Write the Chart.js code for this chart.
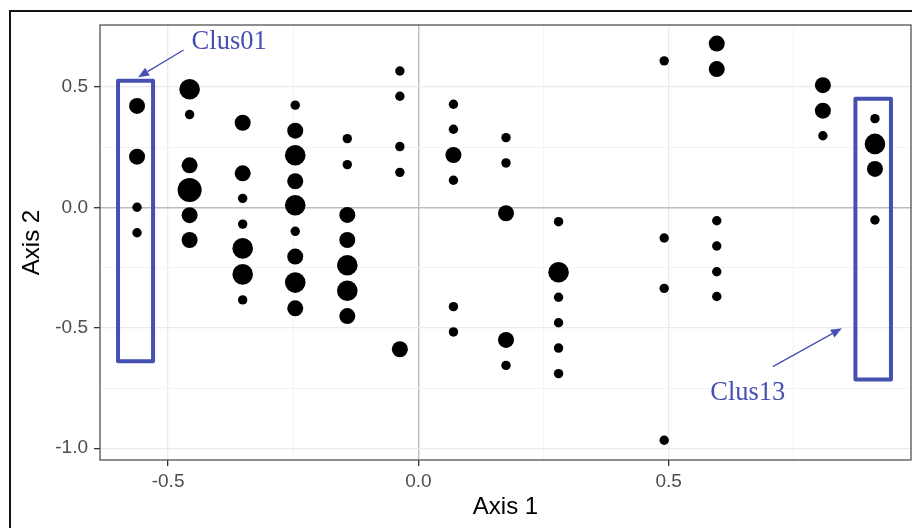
<!DOCTYPE html>
<html>
<head>
<meta charset="utf-8">
<script src="https://cdn.jsdelivr.net/npm/chart.js@4/dist/chart.umd.min.js"></script>
<style>
  html, body { margin: 0; padding: 0; background: #fff; }
  #wrap { position: relative; width: 912px; height: 528px; }
</style>
</head>
<body>
<div id="wrap"><canvas id="chart" width="912" height="528"></canvas></div>
<script>
// one entry per site: position on the two axes and its size class (1 = smallest)
const axis1 = [
  -0.562, -0.562, -0.562, -0.562,
  -0.457, -0.457, -0.457, -0.457, -0.457, -0.457,
  -0.351, -0.351, -0.351, -0.351, -0.351, -0.351, -0.351,
  -0.246, -0.246, -0.246, -0.246, -0.246, -0.246, -0.246, -0.246, -0.246,
  -0.142, -0.142, -0.142, -0.142, -0.142, -0.142, -0.142,
  -0.037, -0.037, -0.037, -0.037, -0.037,
  0.070, 0.070, 0.070, 0.070, 0.070, 0.070,
  0.175, 0.175, 0.175, 0.175, 0.175,
  0.280, 0.280, 0.280, 0.280, 0.280, 0.280,
  0.491, 0.491, 0.491, 0.491,
  0.596, 0.596, 0.596, 0.596, 0.596, 0.596,
  0.808, 0.808, 0.808,
  0.912, 0.912, 0.912, 0.912
];
const axis2 = [
  0.422, 0.211, 0.001, -0.105,
  0.491, 0.386, 0.175, 0.073, -0.032, -0.135,
  0.352, 0.142, 0.038, -0.069, -0.170, -0.278, -0.384,
  0.425, 0.319, 0.217, 0.109, 0.009, -0.099, -0.204, -0.312, -0.419,
  0.286, 0.178, -0.031, -0.135, -0.240, -0.346, -0.451,
  0.567, 0.462, 0.253, 0.146, -0.589,
  0.429, 0.325, 0.218, 0.113, -0.412, -0.517,
  0.290, 0.185, -0.024, -0.550, -0.656,
  -0.059, -0.269, -0.373, -0.479, -0.584, -0.690,
  0.609, -0.127, -0.336, -0.967,
  0.681, 0.575, -0.055, -0.160, -0.267, -0.370,
  0.508, 0.402, 0.298,
  0.369, 0.264, 0.160, -0.052
];
const weight = [
  2, 2, 1, 1,
  3, 1, 2, 4, 2, 2,
  2, 2, 1, 1, 3, 3, 1,
  1, 2, 3, 2, 3, 1, 2, 3, 2,
  1, 1, 2, 2, 3, 3, 2,
  1, 1, 1, 1, 2,
  1, 1, 2, 1, 1, 1,
  1, 1, 2, 2, 1,
  1, 3, 1, 1, 1, 1,
  1, 1, 1, 1,
  2, 2, 1, 1, 1, 1,
  2, 2, 1,
  1, 3, 2, 1
];

const xBreaks = [-0.5, 0, 0.5];
const xMinor = [-0.25, 0.25, 0.75];
const yBreaks = [-1, -0.5, 0, 0.5];
const yMinor = [-0.75, -0.25, 0.25];
const xLimits = [-0.636, 0.984];
const yLimits = [-1.049, 0.758];

// callouts, in axis units
const clusterLabels = ['Clus01', 'Clus13'];
const clusterBoxes = [[-0.600, 0.526, -0.530, -0.639], [0.873, 0.452, 0.944, -0.715]];
const arrowFrom = [[-0.469, 0.654], [0.708, -0.661]];
const arrowTo = [[-0.560, 0.541], [0.846, -0.502]];
const labelAt = [[-0.453, 0.66], [0.583, -0.80]];

const BLUE = '#4650b0';
const radiusFor = { 1: 4.7, 2: 8, 3: 10.3, 4: 12 };

const isMajor = (v, breaks) => breaks.some((b) => Math.abs(b - v) < 1e-9);
const gridColor = (breaks) => (ctx) => {
  const v = ctx.tick.value;
  if (Math.abs(v) < 1e-9) return '#bdbdbd';
  return isMajor(v, breaks) ? '#ebebeb' : '#f1f1f1';
};
const gridWidth = (breaks) => (ctx) => {
  const v = ctx.tick.value;
  if (Math.abs(v) < 1e-9) return 1.4;
  return isMajor(v, breaks) ? 1.3 : 0.8;
};
const tickColor = (breaks) => (ctx) => (isMajor(ctx.tick.value, breaks) ? '#333333' : 'rgba(0,0,0,0)');

const decor = {
  id: 'decor',
  beforeDraw(chart) {
    const ctx = chart.ctx;
    ctx.save();
    ctx.fillStyle = '#fff';
    ctx.fillRect(0, 0, chart.width, chart.height);
    ctx.fillStyle = '#151515';
    ctx.fillRect(9, 10, chart.width, 2);
    ctx.fillRect(9, 10, 2, chart.height);
    ctx.restore();
  },
  afterDraw(chart) {
    const { ctx, chartArea: a } = chart;
    const x = chart.scales.x, y = chart.scales.y;
    ctx.save();
    ctx.strokeStyle = '#444';
    ctx.lineWidth = 1.2;
    ctx.strokeRect(a.left, a.top, a.right - a.left, a.bottom - a.top);

    ctx.strokeStyle = BLUE;
    ctx.fillStyle = BLUE;
    clusterBoxes.forEach((b, i) => {
      const x0 = x.getPixelForValue(b[0]), y0 = y.getPixelForValue(b[1]);
      const x1 = x.getPixelForValue(b[2]), y1 = y.getPixelForValue(b[3]);
      ctx.lineWidth = 4;
      ctx.lineJoin = 'round';
      ctx.strokeRect(x0, y0, x1 - x0, y1 - y0);

      // arrow
      const fx = x.getPixelForValue(arrowFrom[i][0]), fy = y.getPixelForValue(arrowFrom[i][1]);
      const tx = x.getPixelForValue(arrowTo[i][0]), ty = y.getPixelForValue(arrowTo[i][1]);
      const ang = Math.atan2(ty - fy, tx - fx);
      const len = 11, half = 4.5;
      const bx = tx - len * Math.cos(ang), by = ty - len * Math.sin(ang);
      ctx.lineWidth = 1.3;
      ctx.beginPath();
      ctx.moveTo(fx, fy);
      ctx.lineTo(bx, by);
      ctx.stroke();
      ctx.beginPath();
      ctx.moveTo(tx, ty);
      ctx.lineTo(bx + half * Math.sin(ang), by - half * Math.cos(ang));
      ctx.lineTo(bx - half * Math.sin(ang), by + half * Math.cos(ang));
      ctx.closePath();
      ctx.fill();

      ctx.font = '26.5px "Liberation Serif", "Times New Roman", serif';
      ctx.textAlign = 'left';
      ctx.textBaseline = 'alphabetic';
      ctx.fillText(clusterLabels[i], x.getPixelForValue(labelAt[i][0]), y.getPixelForValue(labelAt[i][1]));
    });
    ctx.restore();
  }
};

const tickFont = { family: '"Liberation Sans", Arial, sans-serif', size: 19 };
const titleFont = { family: '"Liberation Sans", Arial, sans-serif', size: 24 };

new Chart(document.getElementById('chart'), {
  type: 'scatter',
  data: {
    datasets: [{
      data: axis1.map((v, i) => ({ x: v, y: axis2[i] })),
      backgroundColor: '#000',
      borderWidth: 0,
      pointRadius: (ctx) => radiusFor[weight[ctx.dataIndex]],
      pointHoverRadius: (ctx) => radiusFor[weight[ctx.dataIndex]],
    }],
  },
  options: {
    responsive: false,
    animation: false,
    events: [],
    layout: { autoPadding: false, padding: { left: 0, top: 25, right: 1, bottom: 0 } },
    plugins: { legend: { display: false }, tooltip: { enabled: false } },
    scales: {
      x: {
        type: 'linear',
        min: xLimits[0],
        max: xLimits[1],
        afterFit: (s) => { s.height = 68; },
        afterBuildTicks: (s) => {
          s.ticks = [...xBreaks, ...xMinor].sort((p, q) => p - q).map((v) => ({ value: v }));
        },
        border: { display: false },
        grid: {
          color: gridColor(xBreaks),
          lineWidth: gridWidth(xBreaks),
          tickColor: tickColor(xBreaks),
          tickLength: 6,
          tickWidth: 1.3,
        },
        ticks: {
          autoSkip: false,
          maxRotation: 0,
          padding: 4,
          color: '#4d4d4d',
          font: tickFont,
          callback: (v) => (isMajor(v, xBreaks) ? v.toFixed(1) : ''),
        },
        title: { display: true, text: 'Axis 1', color: '#000', font: titleFont, padding: { top: 0, bottom: 6 } },
      },
      y: {
        type: 'linear',
        min: yLimits[0],
        max: yLimits[1],
        afterFit: (s) => { s.width = 100; },
        afterBuildTicks: (s) => {
          s.ticks = [...yBreaks, ...yMinor].sort((p, q) => p - q).map((v) => ({ value: v }));
        },
        border: { display: false },
        grid: {
          color: gridColor(yBreaks),
          lineWidth: gridWidth(yBreaks),
          tickColor: tickColor(yBreaks),
          tickLength: 6,
          tickWidth: 1.3,
        },
        ticks: {
          autoSkip: false,
          padding: 6,
          color: '#4d4d4d',
          font: tickFont,
          callback: (v) => (isMajor(v, yBreaks) ? v.toFixed(1) : ''),
        },
        title: { display: true, text: 'Axis 2', color: '#000', font: titleFont, padding: { top: 18, bottom: 0 } },
      },
    },
  },
  plugins: [decor],
});
</script>
</body>
</html>
